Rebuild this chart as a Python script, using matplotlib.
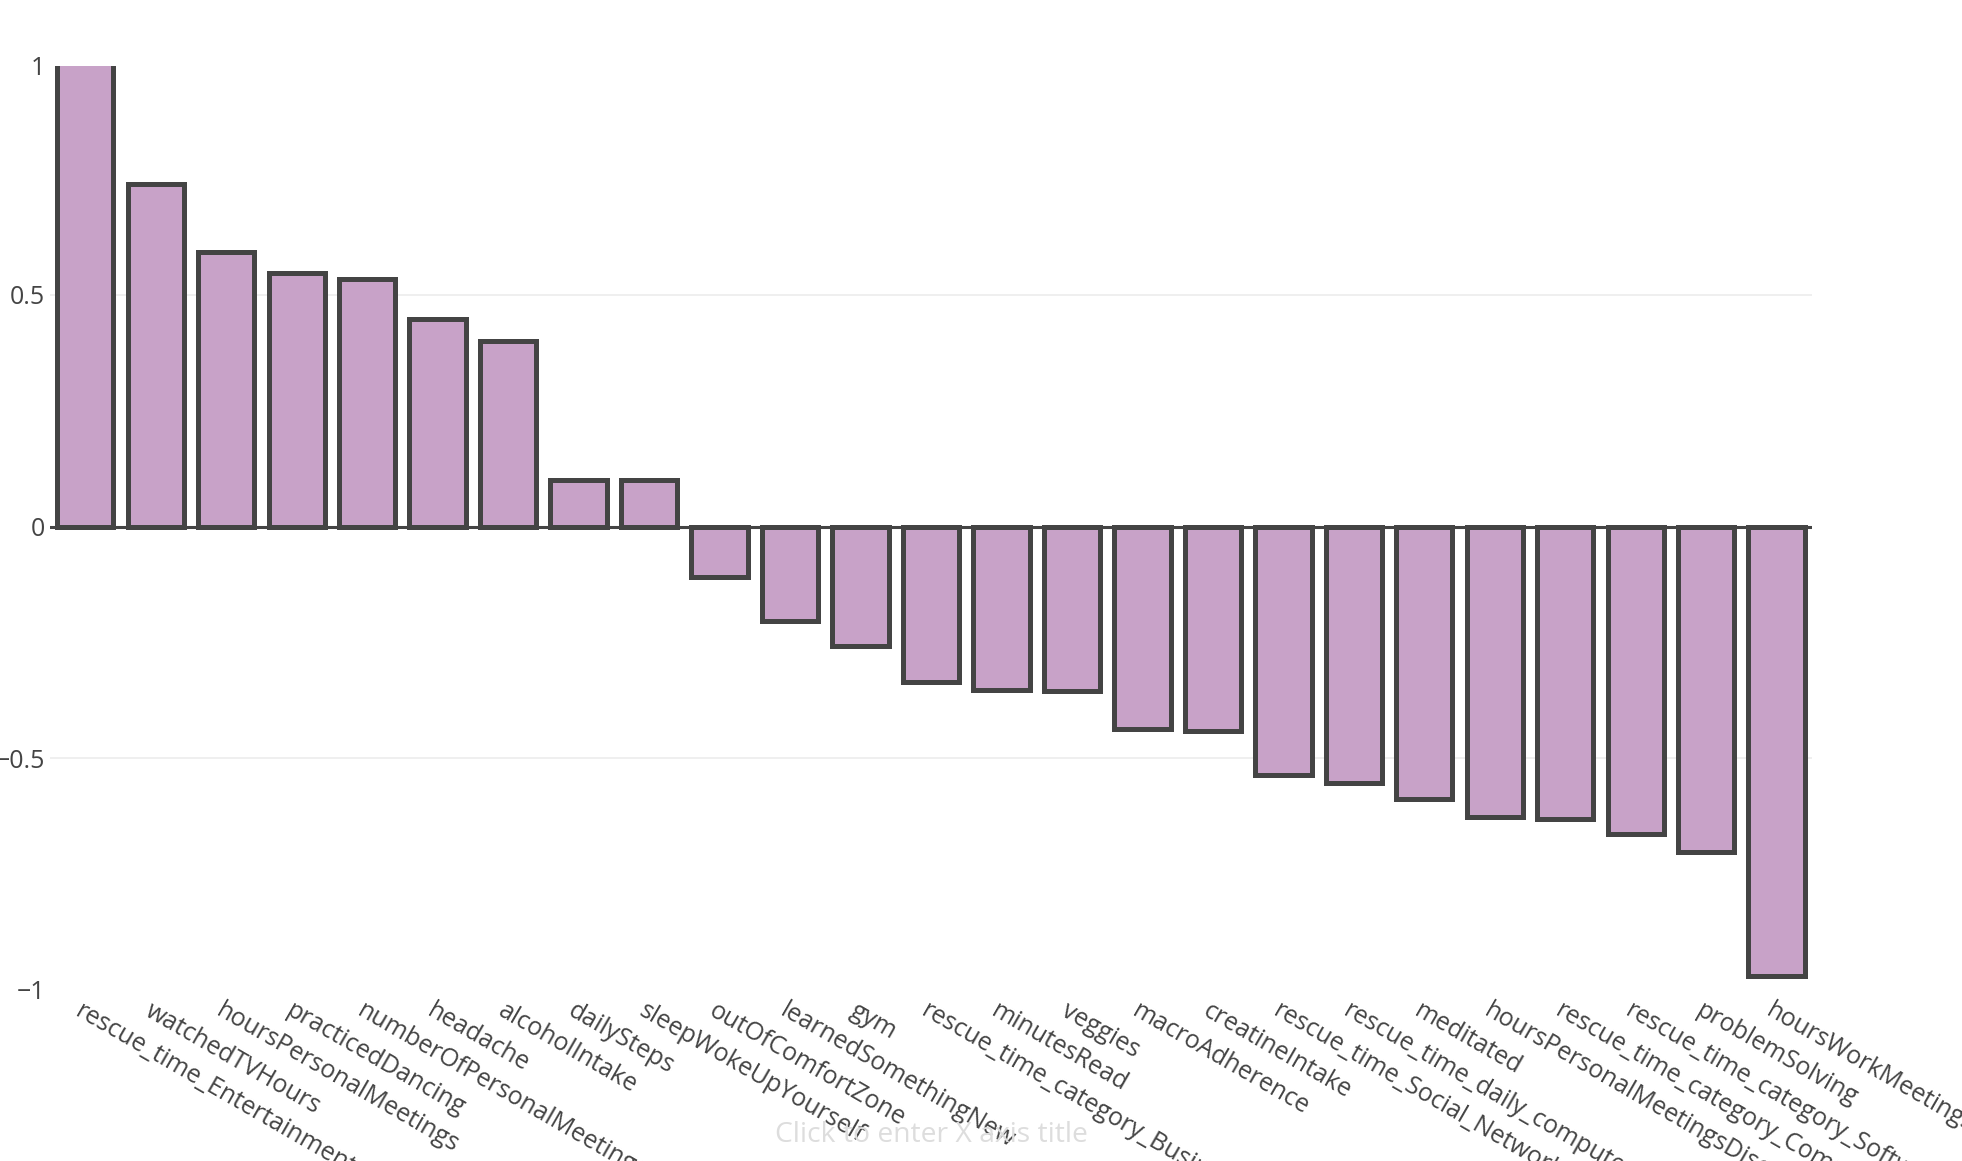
import matplotlib.pyplot as plt

# 各变量与目标的相关系数
names = ["rescue_time_Entertainment", "watchedTVHours", "hoursPersonalMeetings",
         "practicedDancing", "numberOfPersonalMeetings", "headache", "alcoholIntake",
         "dailySteps", "sleepWokeUpYourself", "outOfComfortZone", "learnedSomethingNew",
         "gym", "rescue_time_category_Business", "minutesRead", "veggies",
         "macroAdherence", "creatineIntake", "rescue_time_Social_Networking",
         "rescue_time_daily_computer_hours", "meditated",
         "hoursPersonalMeetingsDiscussion", "rescue_time_category_Communication",
         "rescue_time_category_Software", "problemSolving", "hoursWorkMeetings"]
values = [1.0, 0.740, 0.593, 0.547, 0.534, 0.447, 0.401, 0.100, 0.100, -0.108,
          -0.203, -0.257, -0.336, -0.352, -0.355, -0.436, -0.442, -0.537, -0.553,
          -0.588, -0.626, -0.631, -0.664, -0.702, -0.970]

plt.rcParams['font.family'] = ['Open Sans', 'DejaVu Sans']

fig = plt.figure(figsize=(19.62, 11.61), dpi=100)
ax = fig.add_axes([0.0255, 0.1473, 0.898, 0.7959])

x = list(range(len(names)))
ax.bar(x, values, width=0.8, color="#c8a2c8", edgecolor="#444444", linewidth=3.6, zorder=2)

# 上限略低于1，让第一根柱子的顶边被裁掉
ax.set_xlim(-0.5, len(names) - 0.5)
ax.set_ylim(-1, 0.994)
ax.set_yticks([-1, -0.5, 0, 0.5, 0.994])
ax.set_yticklabels(["\u22121", "\u22120.5", "0", "0.5", "1"])
ax.axhline(0, color="#444444", linewidth=2.2, zorder=3)
for g in [-0.5, 0.5]:
    ax.axhline(g, color="#eeeeee", linewidth=1.3, zorder=1)

for s in ax.spines.values():
    s.set_visible(False)
ax.tick_params(axis="y", length=0, pad=3.5, labelsize=18, labelcolor="#444444")
ax.tick_params(axis="x", length=0, pad=0)
ax.set_xticks(x)
ax.set_xticklabels([])

# 倾斜的类别标签
for i, n in enumerate(names):
    ax.annotate(n, xy=(i, -1), xycoords="data", xytext=(-6, -14), textcoords="offset points",
                rotation=-30, rotation_mode="anchor", ha="left", va="center",
                fontsize=18, color="#444444", annotation_clip=False)

fig.text(0.4745, 0.022, "Click to enter X axis title", ha="center", va="center",
         fontsize=20.3, color="#dddddd")

fig.savefig("out.png", dpi=100)
